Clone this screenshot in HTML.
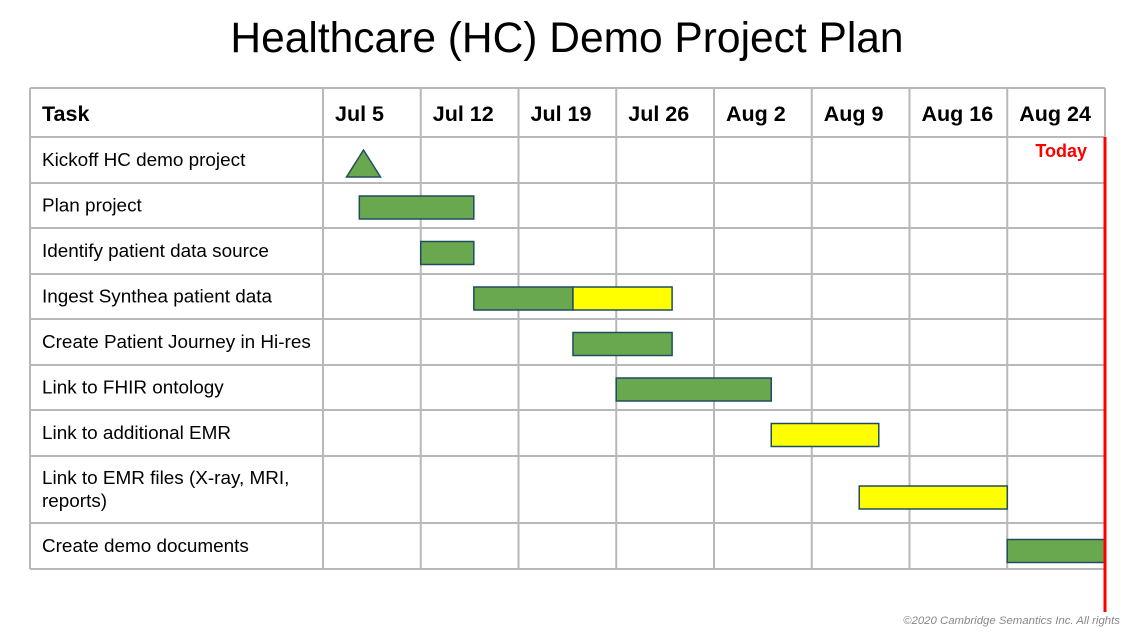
<!DOCTYPE html>
<html><head><meta charset="utf-8"><style>
body{margin:0;background:#fff;width:1124px;height:628px;overflow:hidden;font-family:"Liberation Sans",sans-serif}
</style></head><body>
<svg id="chart" width="1124" height="628" xmlns="http://www.w3.org/2000/svg" font-family="Liberation Sans, sans-serif">
<text x="567" y="52" text-anchor="middle" font-size="42.5" fill="#000">Healthcare (HC) Demo Project Plan</text>
<text x="1120" y="624" text-anchor="end" font-size="11.4" font-style="italic" fill="#888">©2020 Cambridge Semantics Inc. All rights</text>
</svg>
<script>
const weekLabels=["Jul 5","Jul 12","Jul 19","Jul 26","Aug 2","Aug 9","Aug 16","Aug 24"];
const taskNames=[["Kickoff HC demo project"],["Plan project"],["Identify patient data source"],["Ingest Synthea patient data"],["Create Patient Journey in Hi-res"],["Link to FHIR ontology"],["Link to additional EMR"],["Link to EMR files (X-ray, MRI,","reports)"],["Create demo documents"]];
// bars: task index, start day, end day (days from Jul 5), status
const barTask=[1,2,3,3,4,5,6,7,8];
const barStart=[2.6,7,10.8,17.9,17.9,21,32.1,38.4,49];
const barEnd=[10.8,10.8,17.9,25,25,32.1,39.8,49,56];
const barStatus=["done","done","done","pending","done","done","pending","pending","done"];
const milestoneTask=[0];
const milestoneDay=[2.9];
const todayDay=[56];

const svg=document.getElementById('chart');
const NS="http://www.w3.org/2000/svg";
const L=30,C0=323,R=1105,W=(R-C0)/8;
const rowTops=[88,137,183,228,274,319,365,410,456,523,569];
const barOff=[0,2,2,2,2,2,2,2,8,5];
function x(d){return C0+d*W/7;}
function mk(t,a){const e=document.createElementNS(NS,t);for(const k in a)e.setAttribute(k,a[k]);svg.appendChild(e);return e;}
rowTops.forEach((y,i)=>{const l=mk('line',{x1:L,x2:R,y1:y,y2:y,stroke:'#b8b8b8','stroke-width':2});

});
[L,C0].concat(weekLabels.map((_,i)=>C0+(i+1)*W)).forEach(xx=>{const l=mk('line',{x1:xx,x2:xx,y1:88,y2:569,stroke:'#b8b8b8','stroke-width':2});

});
const th=mk('text',{x:42,y:121,'font-size':21.5,'font-weight':'bold'});th.textContent='Task';


weekLabels.forEach((w,i)=>{const t=mk('text',{x:C0+i*W+12,y:121,'font-size':21.5,'font-weight':'bold'});t.textContent=w;

});
taskNames.forEach((lines,i)=>{const top=rowTops[i+1],bot=rowTops[i+2];const mid=(top+bot)/2;
lines.forEach((s,j)=>{const t=mk('text',{x:42,y:mid+6+(j-(lines.length-1)/2)*23,'font-size':18.9});t.textContent=s;

});});
barTask.forEach((ti,i)=>{const top=rowTops[ti+1],bot=rowTops[ti+2];const cy=(top+bot)/2+barOff[ti+1];
const r=mk('rect',{x:x(barStart[i]),y:cy-11.5,width:x(barEnd[i])-x(barStart[i]),height:23,fill:barStatus[i]=='done'?'#6aa84f':'#ffff00',stroke:'#1f4e5f','stroke-width':1.5});

});
milestoneTask.forEach((ti,i)=>{const top=rowTops[ti+1];const cx=x(milestoneDay[i]);
const p=mk('polygon',{points:`${cx},${top+13} ${cx+17},${top+40} ${cx-17},${top+40}`,fill:'#6aa84f',stroke:'#1f4e5f','stroke-width':1.5});

});
const tl=mk('line',{x1:x(todayDay[0]),x2:x(todayDay[0]),y1:137,y2:612,stroke:'#ff0000','stroke-width':3});


const tt=mk('text',{x:x(todayDay[0])-18,y:157,'font-size':18,'font-weight':'bold',fill:'#ff0000','text-anchor':'end'});tt.textContent='Today';


</script>
</body></html>
